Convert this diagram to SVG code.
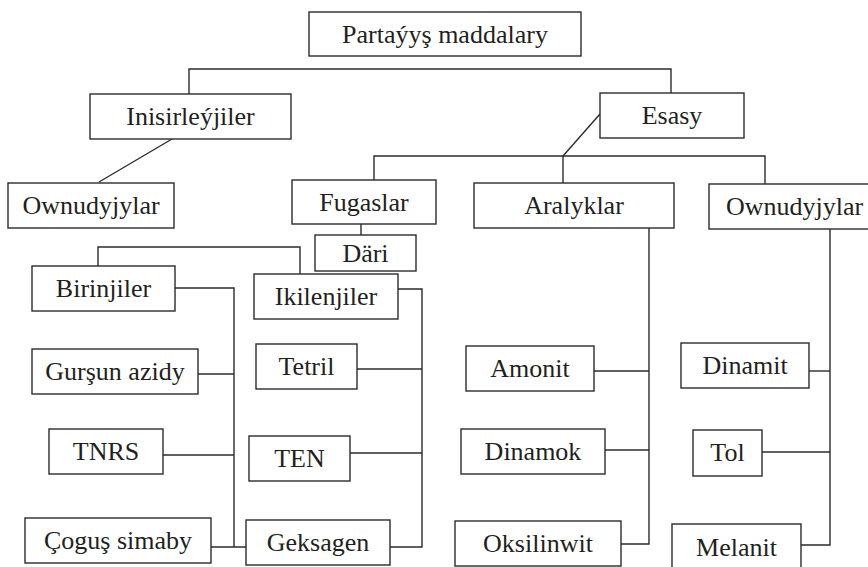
<svg xmlns="http://www.w3.org/2000/svg" width="868" height="567" viewBox="0 0 868 567">
<style>
rect{fill:#fff;stroke:#2b2b2b;stroke-width:1.4}
text{font-family:'Liberation Serif','Tinos','Times New Roman','DejaVu Serif',serif;font-size:26px;fill:#231f20;text-anchor:middle}
#connectors path{fill:none;stroke:#2b2b2b;stroke-width:1.4}
</style>
<rect x="0" y="0" width="868" height="567" style="stroke:none"/>
<g id="connectors">
<path d="M189,94 V69 H671 V93"/>
<path d="M172,139 L99,182"/>
<path d="M600,114 L563,156"/>
<path d="M374,180 V156 H765 V184"/>
<path d="M563,156 V183"/>
<path d="M361,224 V235"/>
<path d="M98,266 V247 H300 V274"/>
<path d="M175,288 H234 V547"/>
<path d="M198,374 H234"/>
<path d="M163,455 H234"/>
<path d="M211,547 H246"/>
<path d="M398,289 H422 V547 H390"/>
<path d="M357,369 H422"/>
<path d="M350,453 H422"/>
<path d="M649,228 V544 H621"/>
<path d="M594,371 H649"/>
<path d="M605,450 H649"/>
<path d="M830,229 V545 H801"/>
<path d="M809,371 H830"/>
<path d="M762,452 H830"/>
</g>
<g font-family="Liberation Serif, serif">
<g id="n-root"><rect x="309" y="12" width="272" height="44"/><text x="445" y="43">Partaýyş maddalary</text></g>
<g id="n-inisirleyjiler"><rect x="90" y="94" width="201" height="45"/><text x="190.5" y="125">Inisirleýjiler</text></g>
<g id="n-esasy"><rect x="600" y="93" width="144" height="45"/><text x="672" y="124">Esasy</text></g>
<g id="n-ownudyjylar1"><rect x="8" y="183" width="166" height="45"/><text x="91" y="214">Ownudyjylar</text></g>
<g id="n-fugaslar"><rect x="292" y="180" width="144" height="44"/><text x="364" y="211">Fugaslar</text></g>
<g id="n-aralyklar"><rect x="474" y="183" width="200" height="45"/><text x="574" y="214">Aralyklar</text></g>
<g id="n-ownudyjylar2"><rect x="709" y="184" width="171" height="45"/><text x="794.5" y="215">Ownudyjylar</text></g>
<g id="n-dari"><rect x="315" y="235" width="101" height="36"/><text x="365.5" y="262">Däri</text></g>
<g id="n-birinjiler"><rect x="32" y="266" width="143" height="45"/><text x="103.5" y="297">Birinjiler</text></g>
<g id="n-ikilenjiler"><rect x="254" y="274" width="144" height="45"/><text x="326" y="305">Ikilenjiler</text></g>
<g id="n-gursun"><rect x="32" y="349" width="166" height="45"/><text x="115" y="380">Gurşun azidy</text></g>
<g id="n-tetril"><rect x="256" y="344" width="101" height="45"/><text x="306.5" y="375">Tetril</text></g>
<g id="n-tnrs"><rect x="49" y="429" width="114" height="45"/><text x="106" y="460">TNRS</text></g>
<g id="n-ten"><rect x="249" y="436" width="101" height="45"/><text x="299.5" y="467">TEN</text></g>
<g id="n-cogus"><rect x="25" y="518" width="186" height="45"/><text x="118" y="549">Çoguş simaby</text></g>
<g id="n-geksagen"><rect x="246" y="520" width="144" height="45"/><text x="318" y="551">Geksagen</text></g>
<g id="n-amonit"><rect x="466" y="346" width="128" height="45"/><text x="530" y="377">Amonit</text></g>
<g id="n-dinamok"><rect x="461" y="429" width="144" height="45"/><text x="533" y="460">Dinamok</text></g>
<g id="n-oksilinwit"><rect x="455" y="521" width="166" height="45"/><text x="538" y="552">Oksilinwit</text></g>
<g id="n-dinamit"><rect x="681" y="343" width="128" height="45"/><text x="745" y="374">Dinamit</text></g>
<g id="n-tol"><rect x="693" y="430" width="69" height="46"/><text x="727.5" y="461">Tol</text></g>
<g id="n-melanit"><rect x="672" y="524" width="129" height="46"/><text x="736.5" y="556">Melanit</text></g>
</g>
</svg>
